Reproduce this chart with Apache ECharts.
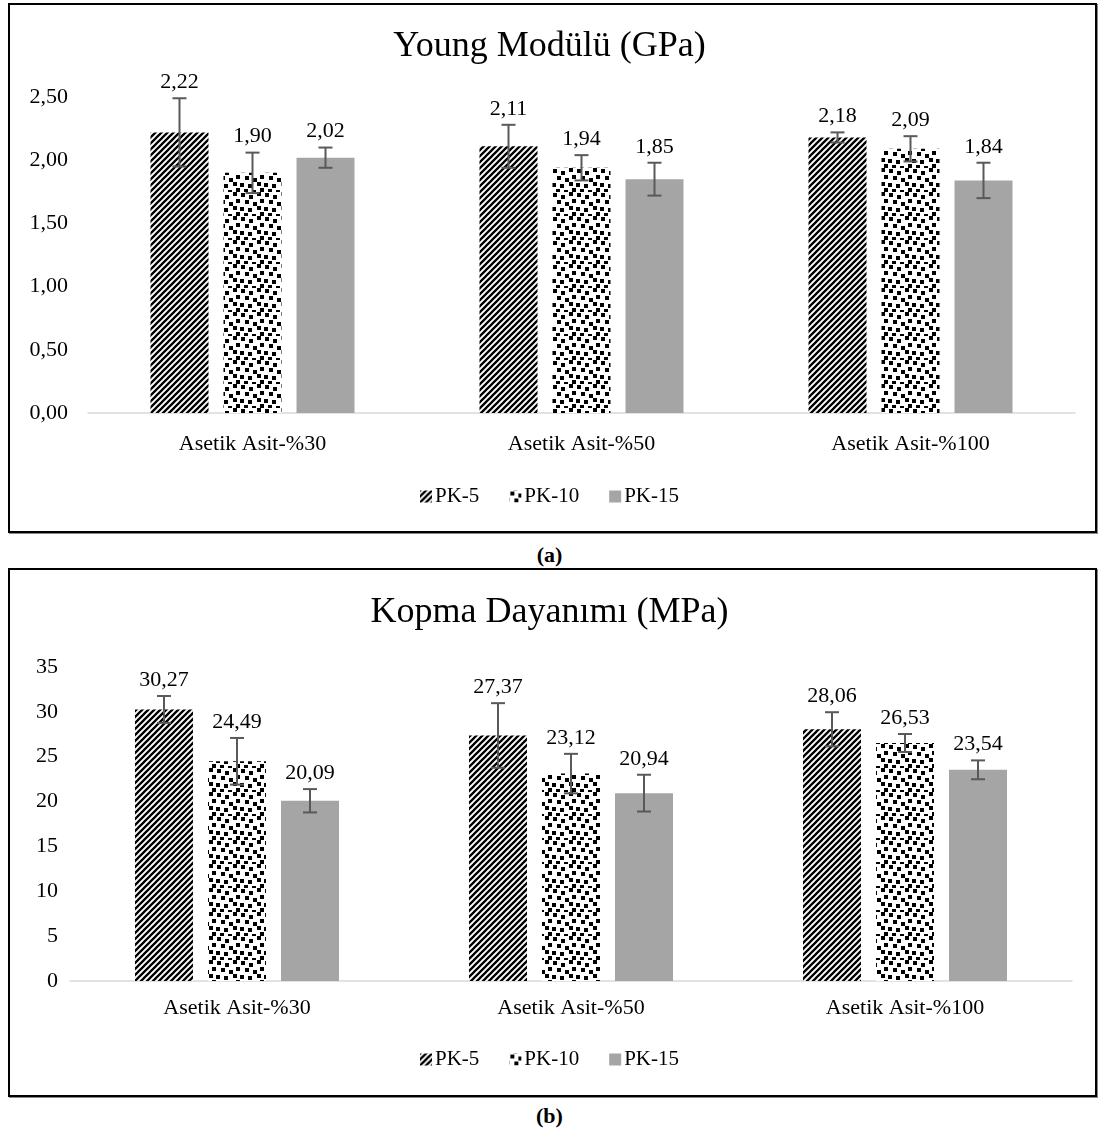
<!DOCTYPE html>
<html>
<head>
<meta charset="utf-8">
<script src="https://cdn.jsdelivr.net/npm/echarts@6/dist/echarts.min.js"></script>
<style>
  body { margin: 0; background: #fff; }
  #page { position: relative; width: 1099px; height: 1136px; font-family: "Liberation Serif", serif; }
  .box { position: absolute; border: 2px solid #000; box-shadow: 1px 1px 0 #888; box-sizing: border-box; }
  .cap { position: absolute; width: 1099px; text-align: center; font-weight: bold; font-size: 22px; }
  #chart { position: absolute; left: 0; top: 0; width: 1099px; height: 1136px; }
</style>
</head>
<body>
<div id="page">
  <div class="box" style="left:8px;top:3px;width:1089px;height:530px"></div>
  <div class="cap" style="top:542px;">(a)</div>
  <div class="box" style="left:8px;top:568px;width:1089px;height:529px"></div>
  <div class="cap" style="top:1103px;">(b)</div>
  <div id="chart"></div>
</div>
<script>
var categories = ['Asetik Asit-%30', 'Asetik Asit-%50', 'Asetik Asit-%100'];
var seriesNames = ['PK-5', 'PK-10', 'PK-15'];

// Young modülü (GPa)
var youngPK5 = [2.22, 2.11, 2.18];
var youngPK10 = [1.90, 1.94, 2.09];
var youngPK15 = [2.02, 1.85, 1.84];
var youngErrPK5 = [0.27, 0.17, 0.04];
var youngErrPK10 = [0.16, 0.10, 0.10];
var youngErrPK15 = [0.08, 0.13, 0.14];

// Kopma dayanımı (MPa)
var kopmaPK5 = [30.27, 27.37, 28.06];
var kopmaPK10 = [24.49, 23.12, 26.53];
var kopmaPK15 = [20.09, 20.94, 23.54];
var kopmaErrPK5 = [1.5, 3.6, 1.9];
var kopmaErrPK10 = [2.6, 2.2, 1.0];
var kopmaErrPK15 = [1.3, 2.05, 1.05];

var FONT = 'Liberation Serif';
var BAR_W = 58;
var GAP = 15;

function stripes() {
  var c = document.createElement('canvas');
  c.width = 6; c.height = 6;
  var g = c.getContext('2d');
  g.fillStyle = '#fff'; g.fillRect(0, 0, 6, 6);
  g.strokeStyle = '#000'; g.lineWidth = 2.3;
  g.beginPath();
  g.moveTo(-2, 2); g.lineTo(2, -2);
  g.moveTo(-1, 7); g.lineTo(7, -1);
  g.moveTo(4, 8); g.lineTo(8, 4);
  g.stroke();
  return c;
}
function confetti() {
  var c = document.createElement('canvas');
  c.width = 24; c.height = 24;
  var g = c.getContext('2d');
  g.fillStyle = '#fff'; g.fillRect(0, 0, 24, 24);
  g.fillStyle = '#000';
  [[1, 1], [9, 3], [17, 0], [5, 8], [13, 10], [20, 7], [0, 15], [8, 16], [17, 14],
   [4, 21], [12, 22], [20, 20]].forEach(function (p) {
    g.fillRect(p[0], p[1], 4, 4);
  });
  return c;
}
var fills = [
  { image: stripes(), repeat: 'repeat' },
  { image: confetti(), repeat: 'repeat' },
  '#a5a5a5'
];

function fmt(v) { return v.toFixed(2).replace('.', ','); }

function barSeries(name, idx, data, gi) {
  return {
    name: name, type: 'bar', xAxisIndex: gi, yAxisIndex: gi,
    data: data, barWidth: BAR_W, barGap: (GAP / BAR_W * 100) + '%',
    itemStyle: { color: fills[idx] }
  };
}

function errSeries(idx, vals, errs, gi) {
  return {
    name: 'err' + gi + idx, type: 'custom', xAxisIndex: gi, yAxisIndex: gi, z: 5,
    clip: false,
    data: vals.map(function (v, i) { return [i, v, errs[i]]; }),
    renderItem: function (params, api) {
      var x = api.value(0), v = api.value(1), e = api.value(2);
      var off = (idx - 1) * (BAR_W + GAP);
      var top = api.coord([x, v + e]);
      var bot = api.coord([x, v - e]);
      var cx = top[0] + off;
      var st = { stroke: '#595959', lineWidth: 2 };
      return {
        type: 'group',
        children: [
          { type: 'line', shape: { x1: cx, y1: top[1], x2: cx, y2: bot[1] }, style: st },
          { type: 'line', shape: { x1: cx - 7, y1: top[1], x2: cx + 7, y2: top[1] }, style: st },
          { type: 'line', shape: { x1: cx - 7, y1: bot[1], x2: cx + 7, y2: bot[1] }, style: st },
          { type: 'text', x: cx, y: top[1] - 5,
            style: { text: fmt(v), fill: '#000', font: '22px "' + FONT + '"', align: 'center', verticalAlign: 'bottom' } }
        ]
      };
    }
  };
}

var chart = echarts.init(document.getElementById('chart'));

var axisCat = function (gi) {
  return {
    type: 'category', gridIndex: gi, data: categories,
    axisLine: { lineStyle: { color: '#d9d9d9', width: 1.5 } },
    axisTick: { show: false },
    axisLabel: { color: '#000', fontFamily: FONT, fontSize: 22, margin: gi === 0 ? 20 : 16 }
  };
};

var legendBase = function (top) {
  return {
    data: seriesNames, top: top, left: 'center', icon: 'rect',
    itemWidth: 12, itemHeight: 12, itemGap: 30,
    textStyle: { fontFamily: FONT, fontSize: 21, color: '#000', padding: [0, 0, 0, -2] }
  };
};

chart.setOption({
  animation: false,
  title: [
    { text: 'Young Modülü (GPa)', left: 'center', top: 24,
      textStyle: { fontFamily: FONT, fontSize: 36, fontWeight: 'normal', color: '#000' } },
    { text: 'Kopma Dayanımı (MPa)', left: 'center', top: 590,
      textStyle: { fontFamily: FONT, fontSize: 36, fontWeight: 'normal', color: '#000' } }
  ],
  legend: [legendBase(481), legendBase(1044)],
  grid: [
    { left: 88, right: 24, top: 97, height: 316 },
    { left: 70, right: 27, top: 667, height: 314 }
  ],
  xAxis: [axisCat(0), axisCat(1)],
  yAxis: [
    { type: 'value', gridIndex: 0, min: 0, max: 2.5, interval: 0.5,
      splitLine: { show: false }, axisLine: { show: false }, axisTick: { show: false },
      axisLabel: { color: '#000', fontFamily: FONT, fontSize: 22, margin: 20, formatter: fmt } },
    { type: 'value', gridIndex: 1, min: 0, max: 35, interval: 5,
      splitLine: { show: false }, axisLine: { show: false }, axisTick: { show: false },
      axisLabel: { color: '#000', fontFamily: FONT, fontSize: 22, margin: 12 } }
  ],
  series: [
    barSeries('PK-5', 0, youngPK5, 0),
    barSeries('PK-10', 1, youngPK10, 0),
    barSeries('PK-15', 2, youngPK15, 0),
    barSeries('PK-5', 0, kopmaPK5, 1),
    barSeries('PK-10', 1, kopmaPK10, 1),
    barSeries('PK-15', 2, kopmaPK15, 1),
    errSeries(0, youngPK5, youngErrPK5, 0),
    errSeries(1, youngPK10, youngErrPK10, 0),
    errSeries(2, youngPK15, youngErrPK15, 0),
    errSeries(0, kopmaPK5, kopmaErrPK5, 1),
    errSeries(1, kopmaPK10, kopmaErrPK10, 1),
    errSeries(2, kopmaPK15, kopmaErrPK15, 1)
  ]
});
</script>
</body>
</html>
